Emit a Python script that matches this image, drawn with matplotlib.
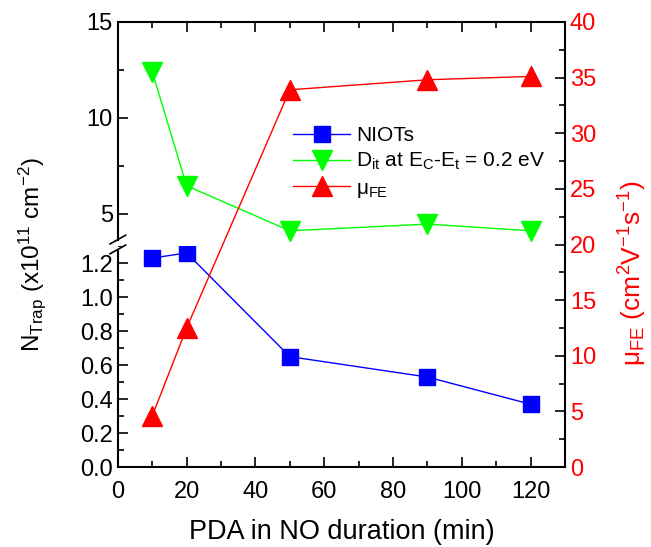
import matplotlib
matplotlib.use("Agg")
import matplotlib.pyplot as plt
from matplotlib.ticker import MultipleLocator, FormatStrFormatter
from matplotlib.lines import Line2D

plt.rcParams['font.family'] = ['Liberation Sans', 'DejaVu Sans']
plt.rcParams['mathtext.fontset'] = 'custom'
plt.rcParams['mathtext.rm'] = 'Liberation Sans'
plt.rcParams['mathtext.it'] = 'Liberation Sans'

# data
duration = [10, 20, 50, 90, 120]
niots = [1.23, 1.26, 0.65, 0.53, 0.37]
dit = [12.4, 6.45, 4.1, 4.45, 4.1]
mu_fe = [4.6, 12.5, 33.9, 34.8, 35.1]

fig = plt.figure(figsize=(6.51, 5.47), dpi=100)
L, W = 0.181, 0.687
B, BRK, T = 0.146, 0.55, 0.96

ax_lo = fig.add_axes([L, B, W, BRK - B])
ax_hi = fig.add_axes([L, BRK, W, T - BRK])
ax_r = fig.add_axes([L, B, W, T - B])
ax_r.patch.set_alpha(0)

fs = 17
for ax in (ax_lo, ax_hi):
    ax.set_xlim(0, 130)
    ax.xaxis.set_major_locator(MultipleLocator(20))
    ax.xaxis.set_minor_locator(MultipleLocator(10))
    ax.spines['right'].set_visible(False)
    ax.tick_params(which='both', direction='in', width=1.2, labelsize=fs)
    ax.tick_params(which='major', length=7)
    ax.tick_params(which='minor', length=4)
    for s in ax.spines.values():
        s.set_linewidth(1.5)

ax_lo.set_ylim(0, 1.3)
ax_lo.yaxis.set_major_locator(MultipleLocator(0.2))
ax_lo.yaxis.set_minor_locator(MultipleLocator(0.1))
ax_lo.yaxis.set_major_formatter(FormatStrFormatter('%.1f'))
ax_lo.spines['top'].set_visible(False)
ax_lo.tick_params(axis='x', which='both', bottom=True, top=False, pad=10)

ax_hi.set_ylim(3.3, 15)
ax_hi.yaxis.set_major_locator(MultipleLocator(5))
ax_hi.yaxis.set_minor_locator(MultipleLocator(2.5))
ax_hi.spines['bottom'].set_visible(False)
ax_hi.tick_params(axis='x', which='both', bottom=False, top=True, labelbottom=False)

ax_lo.plot(duration, niots, color='blue', lw=1, marker='s', ms=11, clip_on=False)
ax_hi.plot(duration, dit, color='#00ff00', lw=1, marker='v', ms=14, clip_on=False)

ax_r.set_xlim(0, 130)
ax_r.set_ylim(0, 40)
ax_r.plot(duration, mu_fe, color='red', lw=1, marker='^', ms=14, clip_on=False)
for side in ('left', 'top', 'bottom'):
    ax_r.spines[side].set_visible(False)
ax_r.spines['right'].set_linewidth(1.5)
ax_r.xaxis.set_visible(False)
ax_r.yaxis.tick_right()
ax_r.yaxis.set_major_locator(MultipleLocator(5))
ax_r.yaxis.set_minor_locator(MultipleLocator(2.5))
ax_r.tick_params(which='both', direction='in', width=1.2, labelsize=fs, labelcolor='red')
ax_r.tick_params(which='major', length=7)
ax_r.tick_params(which='minor', length=4)

# axis titles
fig.text(0.525, 0.028, 'PDA in NO duration (min)', fontsize=19.5, ha='center', va='center')
fig.text(0.049, 0.534, r'N$_{Trap}$ (x10$^{11}$ cm$^{-2}$)', rotation=90,
         fontsize=17.5, ha='center', va='center')
fig.text(0.972, 0.50, r'$\mu_{FE}$ (cm$^{2}$V$^{-1}$s$^{-1}$)', rotation=90,
         color='red', fontsize=19, ha='center', va='center')

# axis break marks
ax_lo.spines['left'].set_bounds(0, 1.27)
ax_hi.spines['left'].set_bounds(3.6, 15)
kw = dict(transform=fig.transFigure, color='black', lw=1.2, clip_on=False)
for dy in (-0.006, 0.012):
    fig.add_artist(Line2D([L - 0.012, L + 0.012], [BRK + dy - 0.008, BRK + dy + 0.008], **kw))

handles = [
    Line2D([], [], color='blue', lw=1, marker='s', ms=11),
    Line2D([], [], color='#00ff00', lw=1, marker='v', ms=14),
    Line2D([], [], color='red', lw=1, marker='^', ms=14),
]
labels = ['NIOTs', r'D$_{it}$ at E$_{C}$-E$_{t}$ = 0.2 eV', r'$\mu_{FE}$']
ax_r.legend(handles, labels, loc='upper left', bbox_to_anchor=(0.374, 0.785),
            frameon=False, fontsize=15, handlelength=2.7, labelspacing=0.3,
            handletextpad=0.3, borderaxespad=0)

fig.savefig('out.png', dpi=100)
